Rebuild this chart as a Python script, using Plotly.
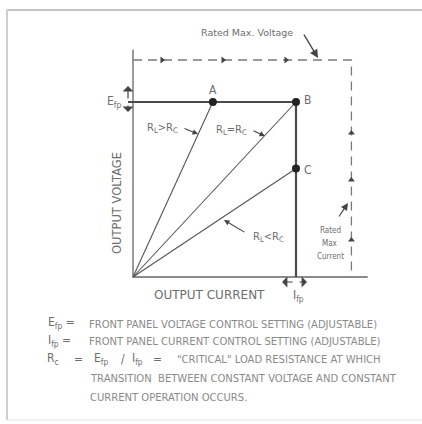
import plotly.graph_objects as go

# ---- data (normalised units: E_fp = 1, I_fp = 1) ----
point_labels = ["A", "B", "C"]
point_current = [0.49, 1.0, 1.0]
point_voltage = [1.0, 1.0, 0.62]
efp = 1.0
ifp = 1.0
rated_max_current = 1.34
rated_max_voltage = 1.24
axis_current_max = 1.44
axis_voltage_max = 1.30
load_labels = ["R<sub>L</sub>>R<sub>C</sub>", "R<sub>L</sub>=R<sub>C</sub>", "R<sub>L</sub><R<sub>C</sub>"]
legend_lines = [
    "FRONT PANEL VOLTAGE CONTROL SETTING (ADJUSTABLE)",
    "FRONT PANEL CURRENT CONTROL SETTING (ADJUSTABLE)",
    "\"CRITICAL\" LOAD RESISTANCE AT WHICH",
    "TRANSITION  BETWEEN CONSTANT VOLTAGE AND CONSTANT",
    "CURRENT OPERATION OCCURS.",
]

W, H = 422, 424
OX, OY, SX, SY = 133, 277, 163, 175


def X(px):
    return (px - OX) / SX


def Y(py):
    return (OY - py) / SY


LINE = "#4a4a4a"
TXT = "#6e6e6e"
LTXT = "#8a8a8a"
DASH = "#7a7a7a"
FONT = "DejaVu Sans, sans-serif"
CFONT = "DejaVu Sans Condensed, DejaVu Sans, sans-serif"

fig = go.Figure()

# axes
fig.add_trace(go.Scatter(x=[0, 0, axis_current_max], y=[axis_voltage_max, 0, 0],
                         mode="lines", line=dict(color="#666", width=1.3), hoverinfo="skip"))
# rated limits (dashed)
fig.add_trace(go.Scatter(x=[0, rated_max_current, rated_max_current],
                         y=[rated_max_voltage, rated_max_voltage, 0],
                         mode="lines", line=dict(color=DASH, width=1.3, dash="9px,6px"),
                         hoverinfo="skip"))
# load lines
for cx, vy in zip(point_current, point_voltage):
    fig.add_trace(go.Scatter(x=[0, cx], y=[0, vy], mode="lines",
                             line=dict(color="#555", width=1.1), hoverinfo="skip"))
# CV / CC characteristic
fig.add_trace(go.Scatter(x=[X(128), ifp, ifp], y=[efp, efp, 0], mode="lines",
                         line=dict(color=LINE, width=2.2), hoverinfo="skip"))
# points
fig.add_trace(go.Scatter(x=point_current, y=point_voltage, mode="markers",
                         marker=dict(color="#222", size=8), hoverinfo="skip"))
# arrow markers on dashed limits
fig.add_trace(go.Scatter(x=[X(162), X(223), X(286)], y=[rated_max_voltage] * 3, mode="markers",
                         marker=dict(symbol="triangle-right", size=6, color="#444"), hoverinfo="skip"))
fig.add_trace(go.Scatter(x=[rated_max_current] * 3, y=[Y(133), Y(180), Y(240)], mode="markers",
                         marker=dict(symbol="triangle-up", size=6, color="#444"), hoverinfo="skip"))

ann = []


def text(px, py, s, size, color=TXT, xanchor="center", angle=0, family=FONT):
    ann.append(dict(x=X(px), y=Y(py), text=s, showarrow=False, xanchor=xanchor,
                    yanchor="middle", textangle=angle,
                    font=dict(family=family, size=size, color=color)))


def arrow(x0, y0, x1, y1, side="end", head=2, size=1, width=1.1):
    ann.append(dict(x=X(x1), y=Y(y1), ax=X(x0), ay=Y(y0), xref="x", yref="y",
                    axref="x", ayref="y", text="", showarrow=True, arrowhead=head,
                    arrowsize=size, arrowwidth=width, arrowcolor="#444", arrowside=side))


# point labels
text(213, 90, point_labels[0], 12, family=CFONT)
text(307, 100, point_labels[1], 12, family=CFONT)
text(308, 170, point_labels[2], 12, family=CFONT)
# load labels
text(162, 128, load_labels[0], 11, family=CFONT)
text(231, 130, load_labels[1], 11, family=CFONT)
text(268, 237, load_labels[2], 11, family=CFONT)
arrow(183, 128, 198, 134)
arrow(252, 130, 265, 136)
arrow(246, 233, 224, 220)

# axis titles
text(209, 295, "OUTPUT CURRENT", 12)
text(117, 203, "OUTPUT VOLTAGE", 11.5, angle=-90)
text(114, 102, "E<sub>fp</sub>", 12, family=CFONT)
text(298, 296, "I<sub>fp</sub>", 12, family=CFONT)
# E_fp / I_fp double arrows
arrow(128, 100, 128, 86, head=1, size=1.5, width=1.2)
arrow(128, 104, 128, 112, head=1, size=1.5, width=1.2)
arrow(294, 282, 282, 282, head=1, size=1.5, width=1.2)
arrow(298, 282, 307, 282, head=1, size=1.5, width=1.2)

# rated limits text
text(247, 32, "Rated Max. Voltage", 9.5)
arrow(303, 33, 318, 58, head=2, size=1.2, width=1.4)
text(330, 230, "Rated", 8, family=CFONT)
text(330, 243, "Max", 8, family=CFONT)
text(330, 256, "Current", 8, family=CFONT)
arrow(338, 218, 348, 203, head=2, size=1.2, width=1.2)

# legend
text(46, 323, "E<sub>fp</sub> =", 12, color=TXT, xanchor="left", family=CFONT)
text(87, 324, legend_lines[0], 10, color=LTXT, xanchor="left")
text(46, 341, "I<sub>fp</sub> =", 12, color=TXT, xanchor="left", family=CFONT)
text(87, 341, legend_lines[1], 10, color=LTXT, xanchor="left")
text(45, 359, "R<sub>c</sub>", 12, color=TXT, xanchor="left", family=CFONT)
text(78, 359, "=", 12, color=TXT, family=CFONT)
text(92, 359, "E<sub>fp</sub>", 12, color=TXT, xanchor="left", family=CFONT)
text(123, 359, "/", 12, color=TXT, family=CFONT)
text(130, 359, "I<sub>fp</sub>", 12, color=TXT, xanchor="left", family=CFONT)
text(157, 359, "=", 12, color=TXT, family=CFONT)
text(175, 359, legend_lines[2], 10, color=LTXT, xanchor="left")
text(88, 378, legend_lines[3], 10, color=LTXT, xanchor="left")
text(88, 397, legend_lines[4], 10, color=LTXT, xanchor="left")

# frame
shapes = [
    dict(type="line", xref="paper", yref="paper", x0=7 / W, x1=1, y0=1 - 10 / H, y1=1 - 10 / H,
         line=dict(color="#c4c4c4", width=2)),
    dict(type="line", xref="paper", yref="paper", x0=7 / W, x1=7 / W, y0=1 - 10 / H, y1=1 - 420 / H,
         line=dict(color="#cfcfcf", width=2)),
    dict(type="line", xref="paper", yref="paper", x0=7 / W, x1=1, y0=1 - 420 / H, y1=1 - 420 / H,
         line=dict(color="#e4e4e4", width=1)),
]

fig.update_layout(
    width=W, height=H, margin=dict(l=0, r=0, t=0, b=0),
    paper_bgcolor="white", plot_bgcolor="white", showlegend=False,
    xaxis=dict(range=[X(0), X(W)], visible=False, fixedrange=True),
    yaxis=dict(range=[Y(H), Y(0)], visible=False, fixedrange=True),
    annotations=ann, shapes=shapes,
)
fig.write_html("out.html", config={"displayModeBar": False},
               post_script="document.body.style.margin='0';document.body.style.overflow='hidden';")
